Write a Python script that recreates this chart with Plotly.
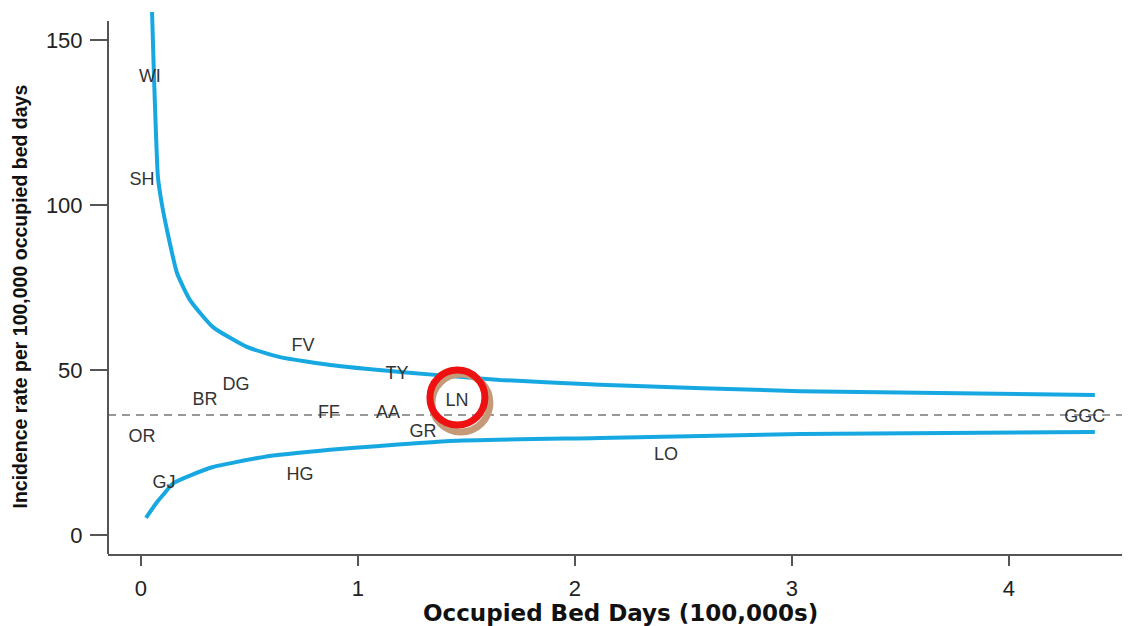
import plotly.graph_objects as go

# Hospital labels and their positions (bed days in 100,000s, rate per 100,000 OBD)
hospitals = ["WI", "SH", "FV", "TY", "DG", "BR", "LN", "FF", "AA", "GR", "OR", "GGC", "LO", "GJ", "HG"]
bed_days = [0.041, 0.005, 0.747, 1.18, 0.438, 0.295, 1.456, 0.866, 1.138, 1.30, 0.005, 4.35, 2.42, 0.106, 0.733]
rates = [138.8, 107.3, 57.0, 48.5, 45.2, 40.9, 40.6, 36.7, 36.7, 31.2, 29.4, 35.5, 24.2, 15.5, 17.9]

# Mean incidence rate (dashed line)
mean_rate = 36.4

# Upper control limit
upper_x = [0.051, 0.060, 0.069, 0.078, 0.097, 0.120, 0.166, 0.226, 0.332, 0.488, 0.641, 0.871,
           1.194, 1.654, 2.115, 3.037, 4.396]
upper_y = [158.5, 138.8, 121.8, 108.5, 100.0, 92.4, 79.4, 71.2, 63.0, 57.0, 53.9, 51.5,
           49.4, 47.0, 45.5, 43.6, 42.4]

# Lower control limit
lower_x = [0.023, 0.074, 0.101, 0.147, 0.226, 0.332, 0.562, 0.871, 1.10, 1.424, 2.115, 3.04, 4.396]
lower_y = [5.2, 10.0, 12.1, 15.6, 18.0, 20.6, 23.6, 25.8, 27.0, 28.5, 29.4, 30.6, 31.2]

x_ticks = [0, 1, 2, 3, 4]
y_ticks = [0, 50, 100, 150]

highlight = "LN"

BLUE = "#17a8e2"
AX = "#555555"

fig = go.Figure()

fig.add_trace(go.Scatter(x=upper_x, y=upper_y, mode="lines",
                         line=dict(color=BLUE, width=4, shape="spline", smoothing=0.5),
                         hoverinfo="skip", showlegend=False))
fig.add_trace(go.Scatter(x=lower_x, y=lower_y, mode="lines",
                         line=dict(color=BLUE, width=4, shape="spline", smoothing=0.5),
                         hoverinfo="skip", showlegend=False))
fig.add_trace(go.Scatter(x=bed_days, y=rates, mode="text", text=hospitals,
                         textposition="middle center",
                         textfont=dict(family="Liberation Sans, Arial, sans-serif", size=18, color="#333333"),
                         showlegend=False))

x_range = [-0.152, 4.558]
y_range = [-5.76, 158.5]

shapes = []
# dashed mean line
shapes.append(dict(type="line", xref="paper", x0=0, x1=1, yref="y", y0=mean_rate, y1=mean_rate,
                   line=dict(color="#777777", width=1.5, dash="8px,6px"), layer="below"))
# y axis line
shapes.append(dict(type="line", xref="paper", x0=0, x1=0, yref="y", y0=y_range[0], y1=155.8,
                   line=dict(color=AX, width=2)))

# highlight circle around LN
hi = hospitals.index(highlight)
cx, cy = bed_days[hi], rates[hi] + 0.9
shapes.append(dict(type="circle", xref="x", yref="y", xsizemode="pixel", ysizemode="pixel",
                   xanchor=cx, yanchor=cy, x0=-25, x1=33, y0=-34, y1=24,
                   line=dict(color="#c49a78", width=7)))
shapes.append(dict(type="circle", xref="x", yref="y", xsizemode="pixel", ysizemode="pixel",
                   xanchor=cx, yanchor=cy, x0=-27, x1=28, y0=-27, y1=28,
                   line=dict(color="#ee1111", width=7)))

annotations = [
    dict(text="Incidence rate per 100,000 occupied bed days", xref="paper", yref="paper",
         x=(20 - 108) / 1022, y=(554 - 296.5) / 542, xanchor="center", yanchor="middle",
         textangle=-90, showarrow=False,
         font=dict(family="Liberation Sans Narrow, Arial Narrow, Liberation Sans, sans-serif", size=19.5,
                   color="#111111", weight="bold")),
    dict(text="<b>Occupied Bed Days (100,000s)</b>", xref="paper", yref="paper",
         x=(620 - 108) / 1022, y=(554 - 613) / 542, xanchor="center", yanchor="middle",
         showarrow=False,
         font=dict(family="DejaVu Sans, Liberation Sans, sans-serif", size=23, color="#111111")),
]

# The page body has an 8px margin; size the figure so it fits the 1130x626 window exactly
fig.update_layout(
    width=1122, height=618,
    margin=dict(l=100, r=0, t=4, b=72),
    paper_bgcolor="white", plot_bgcolor="white",
    shapes=shapes, annotations=annotations,
    xaxis=dict(range=x_range, tickvals=x_ticks, ticktext=[str(v) for v in x_ticks],
               showgrid=False, zeroline=False, showline=True, linecolor=AX, linewidth=2,
               ticks="outside", ticklen=10, tickwidth=2, tickcolor=AX,
               tickfont=dict(family="Liberation Sans, Arial, sans-serif", size=22, color="#222222"),
               ticklabelstandoff=4),
    yaxis=dict(range=y_range, tickvals=y_ticks, ticktext=[str(v) for v in y_ticks],
               showgrid=False, zeroline=False, showline=False,
               ticks="outside", ticklen=17, tickwidth=2, tickcolor=AX,
               tickfont=dict(family="Liberation Sans, Arial, sans-serif", size=22, color="#222222"),
               ticklabelstandoff=3),
)

fig.write_html("out.html")
